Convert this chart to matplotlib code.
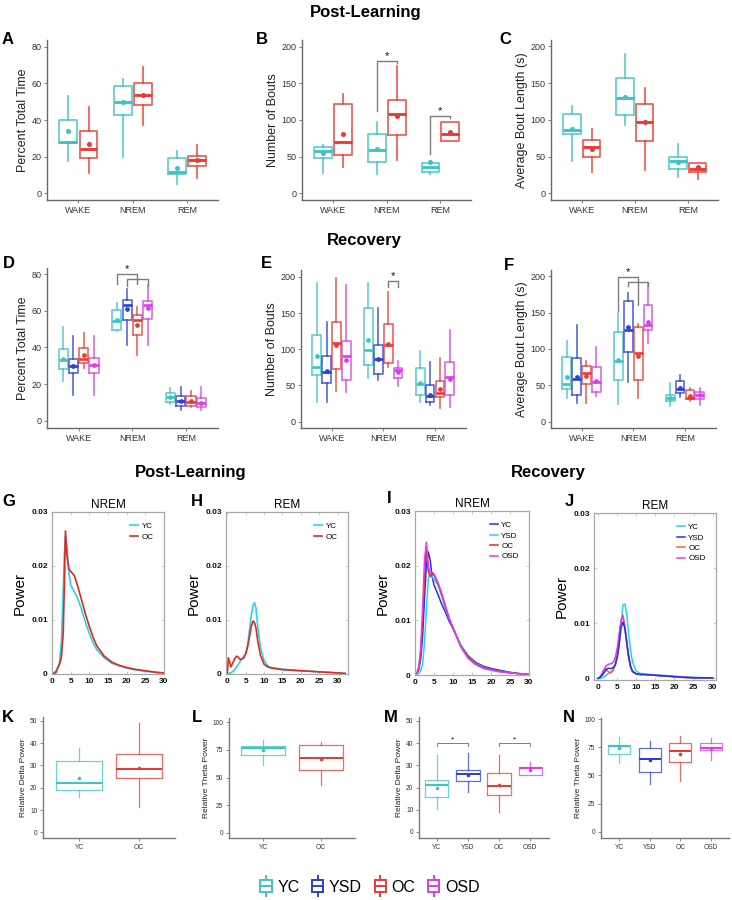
import numpy as np
import matplotlib
matplotlib.use('Agg')
import matplotlib.pyplot as plt
from matplotlib.lines import Line2D
from matplotlib.patches import Rectangle
from matplotlib.legend_handler import HandlerBase

plt.rcParams['font.family'] = ['Liberation Sans', 'DejaVu Sans']

W, H = 732, 900

states = ['WAKE', 'NREM', 'REM']
groups2 = ['YC', 'OC']
groups4 = ['YC', 'YSD', 'OC', 'OSD']

# box stats per state: (whisker low, q1, median, q3, whisker high, mean)
a_yc = [(17.6, 27.6, 28.0, 39.8, 53.3, 33.8), (19.6, 42.7, 50.0, 58.7, 62.4, 50.0), (5.1, 10.4, 11.5, 19.1, 23.3, 14.0)]
a_oc = [(10.9, 19.1, 24.0, 33.8, 46.9, 27.1), (37.3, 48.2, 53.8, 60.0, 69.0, 53.5), (8.2, 15.1, 18.2, 20.5, 26.4, 18.2)]

b_yc = [(28, 48.6, 58, 62.7, 66, 54.5), (26, 43, 58.6, 80.5, 97, 60.5), (27, 28.6, 36, 42, 44, 42.7)]
b_oc = [(36, 52, 70.5, 122, 135.5, 81), (46, 79, 108, 127, 173.6, 106), (72, 72, 80.5, 97, 97, 83)]

c_yc = [(44.3, 80.5, 86, 107.7, 119, 87.3), (92.8, 106, 130, 157.5, 189, 131), (22.6, 32.6, 44.3, 49.8, 67, 42)]
c_oc = [(29.4, 48.9, 62.4, 72.4, 87.8, 60.2), (31.7, 71, 96.8, 121, 144, 97), (20, 29.4, 32.6, 40.7, 40.7, 36)]

d_yc = [(21.8, 28, 33, 38.9, 51.3, 33.5), (49, 49.5, 54.2, 60.4, 64.4, 55), (9, 10.4, 13, 15.3, 17.6, 12.7)]
d_ysd = [(14, 25.8, 29.6, 33.8, 46.2, 29.8), (41.3, 55, 63, 65.8, 72, 60.7), (5.8, 8, 11, 13.6, 18.5, 11)]
d_oc = [(28.5, 31.6, 33.5, 39.5, 48, 35.6), (35.8, 46.5, 55, 57.6, 61.8, 52.2), (7.3, 8, 10.2, 13.5, 16.2, 11)]
d_osd = [(14, 26.2, 30.2, 34.4, 46.2, 30.2), (41.3, 55.3, 63.3, 65.5, 74, 61.3), (5.8, 7.3, 9.8, 12.2, 18.5, 9.8)]

e_yc = [(27.6, 65, 75, 119, 191, 90), (61, 78, 98.6, 157.6, 191, 113), (26.7, 36.4, 52, 74.6, 97.7, 54)]
e_ysd = [(27.6, 54, 69, 91, 137, 70.5), (57.6, 65.4, 86.6, 106, 157.6, 86), (23, 27, 35.5, 50, 83, 36.8)]
e_oc = [(43, 73, 108, 137, 198, 105.5), (75, 80.6, 106, 135, 179, 107), (18.4, 33.6, 39, 56.7, 87.6, 45.6)]
e_osd = [(41.5, 57.6, 91, 112, 189, 85), (49, 61, 71.4, 73.7, 83.4, 69), (19.8, 36.4, 62, 83, 126.7, 59)]

f_yc = [(32, 44.5, 51.8, 88.5, 111.5, 61), (24.3, 57.3, 83.5, 124, 150, 85), (21.6, 29, 33, 36.7, 52.8, 33)]
f_ysd = [(26, 36.7, 59, 88, 133, 61), (55, 96, 126, 166, 177.5, 130.7), (34.4, 39, 45, 56, 64, 45.9)]
f_oc = [(26, 51.4, 66.5, 76.6, 83.5, 63.3), (32, 58, 95, 130.7, 135, 91), (29, 30.7, 33, 43.6, 45.9, 35.3)]
f_osd = [(35.3, 40.4, 54, 75.7, 103, 56), (107.8, 126, 133, 160, 189.4, 137.6), (23, 31, 36.7, 41.3, 46, 36.7)]

k_delta = [(15.8, 19, 22.3, 32.2, 38, 24.5), (11.3, 24.3, 28.3, 35, 49.2, 28.7)]
l_theta = [(61, 70.8, 76.5, 78.6, 83.7, 75.3), (43, 57.2, 68, 79.5, 82.2, 67.2)]
m_delta = [(10.4, 15.9, 21.3, 23.4, 34.6, 19.8), (18, 23, 26.1, 27.9, 35.4, 25.4),
           (8.9, 16.7, 20.7, 26.4, 34.6, 21.2), (25.4, 25.7, 28.7, 29.4, 31.4, 27.9)]
n_theta = [(60.8, 69.3, 75.9, 76.8, 84.3, 74.4), (42.2, 52.7, 64.8, 74.7, 80.7, 63.9),
           (44.6, 62.3, 71.4, 78.9, 84.9, 69.3), (63.3, 72.3, 74.7, 79.2, 83.4, 74.7)]

# significance brackets: (box 1, box 2, bar y, left end y, right end y, star)
b_sig = [((1, 0), (1, 1), 180.5, 112, 177, True), ((2, 0), (2, 1), 105.5, 53, 102, True)]
d_sig = [((1, 0), (1, 2), 80, 74.6, 74.6, True), ((1, 1), (1, 3), 77.3, 73.6, 73.6, False)]
e_sig = [((1, 2), (1, 3), 194.6, 186, 186, True)]
f_sig = [((1, 0), (1, 2), 199.5, 152, 160, True), ((1, 1), (1, 3), 192.6, 186, 186, False)]
m_sig = [(0, 1, 40, 38.8, 38.8), (2, 3, 40, 38.8, 38.8)]

# power spectra
g_freq = [0, 1, 2, 2.5, 3, 3.3, 3.6, 4, 4.5, 5, 6, 7, 8, 9, 10, 11, 12, 14, 16, 18, 20, 22, 25, 28, 30]
g_yc = [0, 0.0005, 0.002, 0.006, 0.015, 0.022, 0.0255, 0.0235, 0.019, 0.0165, 0.0152, 0.0138, 0.0118, 0.0095, 0.0075,
        0.0058, 0.0045, 0.003, 0.002, 0.0015, 0.0011, 0.0008, 0.0005, 0.0003, 0.0002]
g_oc = [0, 0.0002, 0.0018, 0.003, 0.0075, 0.016, 0.0265, 0.022, 0.0195, 0.019, 0.0182, 0.016, 0.0135, 0.011, 0.0088,
        0.0068, 0.0052, 0.0033, 0.0022, 0.0016, 0.0012, 0.0009, 0.0006, 0.0003, 0.0002]

h_freq = [0, 0.3, 1, 2, 2.5, 3, 3.5, 4, 4.5, 5, 5.5, 6, 6.5, 7, 7.4, 7.8, 8.3, 9, 10, 11, 12, 15, 20, 25, 30, 32]
h_yc = [0, 0.0001, 0.0002, 0.0008, 0.0013, 0.0018, 0.0023, 0.0028, 0.0033, 0.0038, 0.0052, 0.008, 0.0108, 0.0127,
        0.0132, 0.0122, 0.0085, 0.005, 0.0025, 0.0015, 0.0012, 0.0009, 0.0006, 0.0004, 0.0002, 0.0001]
h_oc = [0, 0.003, 0.0013, 0.0028, 0.0033, 0.0031, 0.0027, 0.0028, 0.003, 0.0037, 0.005, 0.0068, 0.0088, 0.0098,
        0.0095, 0.0085, 0.006, 0.0035, 0.0018, 0.0013, 0.0011, 0.0008, 0.0006, 0.0004, 0.0002, 0.0001]

i_freq = [0, 0.5, 1, 1.5, 2, 2.5, 3, 3.5, 4, 4.5, 5, 6, 7, 8, 9, 10, 12, 14, 16, 18, 20, 22, 25, 28, 30]
i_yc = [0, 0.0003, 0.001, 0.003, 0.007, 0.014, 0.020, 0.0225, 0.021, 0.018, 0.0165, 0.0148, 0.013, 0.0115, 0.0098,
        0.0085, 0.0055, 0.0035, 0.0023, 0.0016, 0.0012, 0.0009, 0.0005, 0.0002, 0.0001]
i_ysd = [0, 0.0001, 0.0003, 0.0008, 0.002, 0.006, 0.012, 0.0175, 0.019, 0.018, 0.0175, 0.0165, 0.0145, 0.0122, 0.0102,
         0.0086, 0.0055, 0.0033, 0.0021, 0.0014, 0.001, 0.0007, 0.0004, 0.0002, 0.0001]
i_oc = [0, 0.0003, 0.0012, 0.004, 0.01, 0.018, 0.0235, 0.019, 0.018, 0.0185, 0.0183, 0.0168, 0.0148, 0.0125, 0.0103,
        0.0086, 0.0053, 0.0032, 0.002, 0.0013, 0.001, 0.0007, 0.0004, 0.0002, 0.0001]
i_osd = [0, 0.0004, 0.0015, 0.005, 0.012, 0.021, 0.0243, 0.020, 0.0185, 0.0188, 0.0185, 0.017, 0.015, 0.0127, 0.0104,
         0.0087, 0.0052, 0.003, 0.0019, 0.0012, 0.0009, 0.0006, 0.0004, 0.0002, 0.0001]

j_freq = [0, 0.5, 1, 1.5, 2, 2.5, 3, 3.5, 4, 4.5, 5, 5.5, 6, 6.5, 7, 7.5, 8, 8.5, 9, 10, 11, 12, 14, 16, 18, 20, 22, 25,
          28, 30]
j_yc = [0, 0, 0.0001, 0.0003, 0.0005, 0.0008, 0.001, 0.0013, 0.0017, 0.0025, 0.004, 0.0065, 0.010, 0.0133, 0.0135,
        0.0115, 0.008, 0.005, 0.003, 0.0013, 0.0009, 0.0008, 0.0007, 0.0006, 0.0005, 0.0004, 0.0003, 0.0002, 0.0001,
        0.0001]
j_ysd = [0, 0.0002, 0.0006, 0.001, 0.0015, 0.0018, 0.0018, 0.0018, 0.002, 0.0025, 0.0038, 0.006, 0.0092, 0.0102,
         0.009, 0.0065, 0.004, 0.0022, 0.0013, 0.0008, 0.0007, 0.0007, 0.0006, 0.0005, 0.0004, 0.0003, 0.0002, 0.0001,
         0.0001, 0.0001]
j_oc = [0, 0.0002, 0.0005, 0.001, 0.0018, 0.0013, 0.001, 0.0011, 0.0015, 0.0025, 0.0045, 0.0075, 0.0105, 0.0115,
        0.0095, 0.0065, 0.0038, 0.002, 0.0012, 0.0008, 0.0007, 0.0007, 0.0006, 0.0005, 0.0004, 0.0003, 0.0002, 0.0001,
        0.0001, 0.0001]
j_osd = [0, 0.0003, 0.0009, 0.0016, 0.0022, 0.0025, 0.0026, 0.0027, 0.003, 0.0038, 0.0055, 0.008, 0.0105, 0.0112,
         0.0092, 0.0063, 0.0037, 0.002, 0.0012, 0.0008, 0.0007, 0.0007, 0.0006, 0.0005, 0.0004, 0.0003, 0.0002, 0.0001,
         0.0001, 0.0001]

# colours
C_YC, C_YSD, C_OC, C_OSD = '#3cc4c6', '#2b3fd9', '#ec3a32', '#d83fe6'
S_CYAN, S_RED, S_BLUE, S_MAG, S_ORANGE = '#1fd8ec', '#e6261f', '#2233e6', '#e23af2', '#f4613a'


def add_ax(fig, l, t, r, b):
    return fig.add_axes([l / W, 1 - b / H, (r - l) / W, (b - t) / H])


def ftext(fig, x, y, s, **kw):
    fig.text(x / W, 1 - y / H, s, **kw)


def draw_boxes(ax, series, colors, offsets, width, lw=1.3, ms=2.6, alpha=0.8):
    for data, col, off in zip(series, colors, offsets):
        stats = [dict(whislo=d[0], q1=d[1], med=d[2], q3=d[3], whishi=d[4], mean=d[5]) for d in data]
        pos = np.arange(1, len(data) + 1) + off
        ax.bxp(stats, positions=pos, widths=width, showmeans=True, showcaps=False, showfliers=False,
               manage_ticks=False,
               boxprops=dict(color=col, lw=lw, alpha=alpha),
               whiskerprops=dict(color=col, lw=lw, alpha=alpha),
               medianprops=dict(color=col, lw=lw * 1.6),
               meanprops=dict(marker='o', markerfacecolor=col, markeredgecolor=col, markersize=ms))


def style_gg(ax, cats, xlim, ylim, yticks, ylabel, lab=6.5, ylab=9, spine='#6a6a6a'):
    ax.set_xlim(xlim)
    ax.set_ylim(ylim)
    ax.set_yticks(yticks)
    ax.set_xticks(np.arange(1, len(cats) + 1))
    ax.set_xticklabels(cats)
    for s in ('top', 'right'):
        ax.spines[s].set_visible(False)
    for s in ('left', 'bottom'):
        ax.spines[s].set_color(spine)
        ax.spines[s].set_linewidth(1.0)
    ax.tick_params(length=2, width=0.6, color=spine, labelsize=lab, labelcolor='#333333', pad=2)
    ax.set_ylabel(ylabel, fontsize=ylab, labelpad=2, color='#222222')
    ax.patch.set_alpha(0)


def bracket(ax, x1, x2, y, y1, y2, star=True, lw=1.0, fs=8):
    ax.plot([x1, x1, x2, x2], [y1, y, y, y2], color='#7d7d7d', lw=lw, clip_on=False)
    if star:
        ax.text((x1 + x2) / 2, y, '*', ha='center', va='bottom', fontsize=fs, color='#111111')


def style_spec(ax, xlim, title):
    ax.set_xlim(xlim)
    ax.set_ylim(0, 0.03)
    ax.set_xticks(np.arange(0, 31, 5))
    ax.set_yticks([0, 0.01, 0.02, 0.03])
    ax.set_yticklabels(['0', '0.01', '0.02', '0.03'])
    for s in ax.spines.values():
        s.set_color('#a8a8a8')
        s.set_linewidth(0.9)
    ax.tick_params(direction='in', length=2, width=0.5, color='#b8b8b8', labelsize=6, pad=3,
                   top=True, right=True, labelcolor='#111111')
    for t in ax.get_xticklabels() + ax.get_yticklabels():
        t.set_fontweight('bold')
    ax.set_ylabel('Power', fontsize=11, labelpad=3)
    ax.set_title(title, fontsize=8.5, pad=3)


def spec_legend(ax, handles, labels):
    ax.legend(handles, labels, loc='upper right', fontsize=5.8, frameon=False, handlelength=1.0,
              handletextpad=0.4, labelspacing=0.35, borderaxespad=0.9)


class BoxKey:
    def __init__(self, color):
        self.color = color


class BoxHandler(HandlerBase):
    def legend_artist(self, legend, orig_handle, fontsize, handlebox):
        c = orig_handle.color
        x0, y0 = -handlebox.xdescent, -handlebox.ydescent
        w, h = handlebox.width, handlebox.height
        tr = handlebox.get_transform()
        rect = Rectangle((x0, y0), w, h, fill=False, ec=c, lw=1.4, transform=tr)
        handlebox.add_artist(rect)
        for xs, ys in (([x0, x0 + w], [y0 + h / 2] * 2),
                       ([x0 + w / 2] * 2, [y0 + h, y0 + 1.35 * h]),
                       ([x0 + w / 2] * 2, [y0 - 0.35 * h, y0])):
            handlebox.add_artist(Line2D(xs, ys, color=c, lw=1.4, transform=tr))
        return rect


fig = plt.figure(figsize=(W / 100, H / 100), dpi=100)

# titles
title_kw = dict(ha='center', va='center', fontsize=12, fontweight='bold')
ftext(fig, 366, 13, 'Post-Learning', **title_kw)
ftext(fig, 364, 241, 'Recovery', **title_kw)
ftext(fig, 191, 473, 'Post-Learning', **title_kw)
ftext(fig, 548, 473, 'Recovery', **title_kw)

letter_kw = dict(ha='center', va='center', fontsize=12, fontweight='bold')
for s, x, y in [('A', 8, 40), ('B', 262, 39), ('C', 505, 39), ('D', 9, 264), ('E', 266, 264), ('F', 509, 265),
                ('G', 9, 501), ('H', 197, 501), ('I', 389, 499), ('J', 569, 501),
                ('K', 8, 717), ('L', 197, 717), ('M', 391, 717), ('N', 569, 717)]:
    ftext(fig, x, y, s, **letter_kw)

off2 = [-0.185, 0.185]
off4 = [-0.287, -0.096, 0.096, 0.287]

# A
ax = add_ax(fig, 47, 40, 218, 200)
draw_boxes(ax, [a_yc, a_oc], [C_YC, C_OC], off2, 0.33)
style_gg(ax, states, (0.42, 3.57), (-3.6, 83.6), [0, 20, 40, 60, 80], 'Percent Total Time')

# B
ax = add_ax(fig, 302, 40, 471, 200)
draw_boxes(ax, [b_yc, b_oc], [C_YC, C_OC], off2, 0.33)
style_gg(ax, states, (0.42, 3.57), (-9.1, 209), [0, 50, 100, 150, 200], 'Number of Bouts')
for g1, g2, y, y1, y2, st in b_sig:
    bracket(ax, g1[0] + 1 + off2[g1[1]], g2[0] + 1 + off2[g2[1]], y, y1, y2, st)

# C
ax = add_ax(fig, 551, 40, 718, 200)
draw_boxes(ax, [c_yc, c_oc], [C_YC, C_OC], off2, 0.33)
style_gg(ax, states, (0.42, 3.57), (-9.1, 208.7), [0, 50, 100, 150, 200], 'Average Bout Length (s)')

# D
ax = add_ax(fig, 47, 268, 218, 428)
draw_boxes(ax, [d_yc, d_ysd, d_oc, d_osd], [C_YC, C_YSD, C_OC, C_OSD], off4, 0.17, lw=1.2, ms=2.4)
style_gg(ax, states, (0.41, 3.6), (-4, 83.3), [0, 20, 40, 60, 80], 'Percent Total Time')
for g1, g2, y, y1, y2, st in d_sig:
    bracket(ax, g1[0] + 1 + off4[g1[1]], g2[0] + 1 + off4[g2[1]], y, y1, y2, st)

# E
ax = add_ax(fig, 301, 270, 466, 428)
draw_boxes(ax, [e_yc, e_ysd, e_oc, e_osd], [C_YC, C_YSD, C_OC, C_OSD], off4, 0.17, lw=1.2, ms=2.4)
style_gg(ax, states, (0.41, 3.6), (-8.7, 209.4), [0, 50, 100, 150, 200], 'Number of Bouts')
for g1, g2, y, y1, y2, st in e_sig:
    bracket(ax, g1[0] + 1 + off4[g1[1]], g2[0] + 1 + off4[g2[1]], y, y1, y2, st)

# F
ax = add_ax(fig, 551, 270, 716, 428)
draw_boxes(ax, [f_yc, f_ysd, f_oc, f_osd], [C_YC, C_YSD, C_OC, C_OSD], off4, 0.17, lw=1.2, ms=2.4)
style_gg(ax, states, (0.41, 3.6), (-8.7, 208.7), [0, 50, 100, 150, 200], 'Average Bout Length (s)')
for g1, g2, y, y1, y2, st in f_sig:
    bracket(ax, g1[0] + 1 + off4[g1[1]], g2[0] + 1 + off4[g2[1]], y, y1, y2, st)

# G
ax = add_ax(fig, 52, 512, 164, 674)
l1, = ax.plot(g_freq, g_yc, color=S_CYAN, lw=1.2)
l2, = ax.plot(g_freq, g_oc, color=S_RED, lw=1.2)
style_spec(ax, (0, 30), 'NREM')
spec_legend(ax, [l1, l2], groups2)

# H
ax = add_ax(fig, 226, 512, 348, 674)
l1, = ax.plot(h_freq, h_yc, color=S_CYAN, lw=1.2)
l2, = ax.plot(h_freq, h_oc, color=S_RED, lw=1.2)
style_spec(ax, (-0.35, 32.8), 'REM')
spec_legend(ax, [l1, l2], groups2)

# I
ax = add_ax(fig, 415, 511, 529, 675)
l1, = ax.plot(i_freq, i_yc, color=S_BLUE, lw=1.1)
l2, = ax.plot(i_freq, i_ysd, color=S_CYAN, lw=1.1)
l3, = ax.plot(i_freq, i_oc, color=S_RED, lw=1.1)
l4, = ax.plot(i_freq, i_osd, color=S_MAG, lw=1.1)
style_spec(ax, (0, 30), 'NREM')
spec_legend(ax, [l1, l2, l3, l4], groups4)

# J
ax = add_ax(fig, 594, 513, 716, 680)
l1, = ax.plot(j_freq, j_yc, color=S_CYAN, lw=1.1)
l3, = ax.plot(j_freq, j_oc, color=S_ORANGE, lw=1.1)
l4, = ax.plot(j_freq, j_osd, color=S_MAG, lw=1.1)
l2, = ax.plot(j_freq, j_ysd, color=S_BLUE, lw=1.1)
style_spec(ax, (-1.1, 30.9), 'REM')
ax.set_ylim(-0.0003, 0.03)
spec_legend(ax, [l1, l2, l3, l4], groups4)

small = dict(lab=4.8, ylab=6, spine='#7a7a7a')

# K
ax = add_ax(fig, 43, 717, 175, 838)
for i, col in enumerate([C_YC, C_OC]):
    draw_boxes(ax, [[k_delta[i]]], [col], [i], 0.76, lw=0.9, ms=1.6, alpha=0.75)
style_gg(ax, groups2, (0.4, 2.6), (-2.5, 51.7), [0, 10, 20, 30, 40, 50], 'Relative Delta Power', **small)

# L
ax = add_ax(fig, 229, 718, 355, 838)
for i, col in enumerate([C_YC, C_OC]):
    draw_boxes(ax, [[l_theta[i]]], [col], [i], 0.76, lw=0.9, ms=1.6, alpha=0.75)
style_gg(ax, groups2, (0.41, 2.59), (-4.8, 103.9), [0, 25, 50, 75, 100], 'Relative Theta Power', **small)

# M
ax = add_ax(fig, 419, 717, 549, 838)
for i, col in enumerate([C_YC, C_YSD, C_OC, C_OSD]):
    draw_boxes(ax, [[m_delta[i]]], [col], [i], 0.75, lw=0.9, ms=1.6, alpha=0.75)
style_gg(ax, groups4, (0.43, 4.6), (-2.7, 51.7), [0, 10, 20, 30, 40, 50], 'Relative Delta Power', **small)
for g1, g2, y, y1, y2 in m_sig:
    bracket(ax, g1 + 1, g2 + 1, y, y1, y2, True, lw=0.7, fs=6)

# N
ax = add_ax(fig, 601, 718, 729, 838)
for i, col in enumerate([C_YC, C_YSD, C_OC, C_OSD]):
    draw_boxes(ax, [[n_theta[i]]], [col], [i], 0.72, lw=0.9, ms=1.6, alpha=0.75)
style_gg(ax, groups4, (0.4, 4.6), (-5.6, 101), [0, 25, 50, 75, 100], 'Relative Theta Power', **small)

# bottom legend
keys = [BoxKey(c) for c in (C_YC, C_YSD, C_OC, C_OSD)]
fig.legend(keys, groups4, handler_map={BoxKey: BoxHandler()}, loc='center', bbox_to_anchor=(370 / W, 1 - 887 / H),
           ncol=4, frameon=False, fontsize=11.5, handlelength=0.7, handleheight=0.8, handletextpad=0.35,
           columnspacing=0.8)

fig.savefig('out.png', dpi=100)
